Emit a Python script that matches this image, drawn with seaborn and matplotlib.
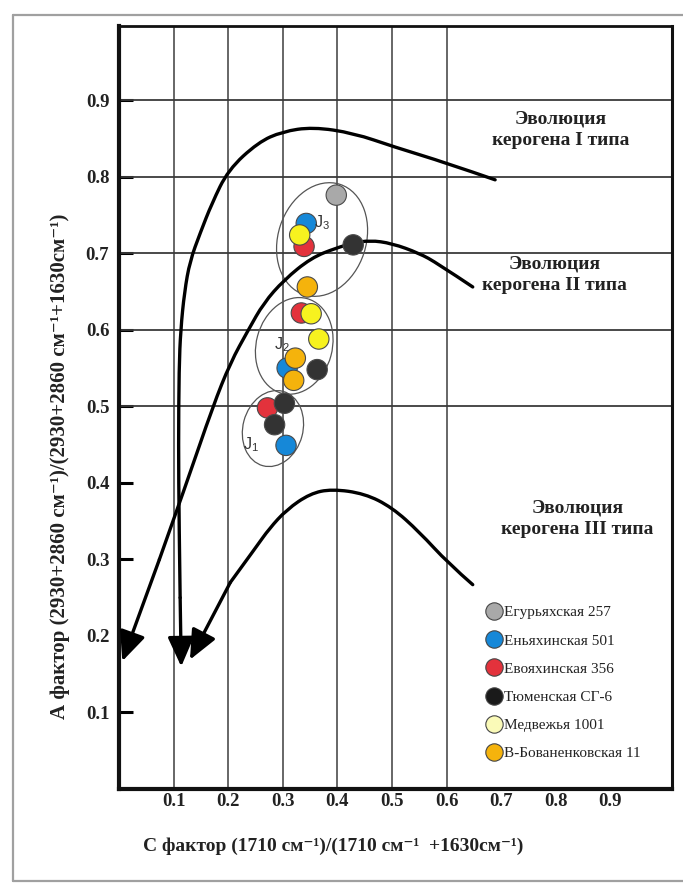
import matplotlib
matplotlib.use("Agg")
import matplotlib.pyplot as plt
from matplotlib.patches import Ellipse, PathPatch
from matplotlib.path import Path
from matplotlib.lines import Line2D
from matplotlib.transforms import ScaledTranslation
import seaborn as sns
import pandas as pd

# --- sample series: C factor (x) and A factor (y) ---
egur_x = [0.398]
egur_y = [0.776]
enyakh_x = [0.343, 0.308, 0.306]
enyakh_y = [0.739, 0.550, 0.449]
evoyakh_x = [0.339, 0.334, 0.272]
evoyakh_y = [0.709, 0.622, 0.498]
tyumen_x = [0.429, 0.363, 0.303, 0.285]
tyumen_y = [0.711, 0.548, 0.504, 0.476]
medv_x = [0.331, 0.352, 0.366]
medv_y = [0.724, 0.621, 0.588]
bovan_x = [0.345, 0.323, 0.320]
bovan_y = [0.656, 0.563, 0.534]

field_names = ["Егурьяхская 257", "Еньяхинская 501", "Евояхинская 356",
               "Тюменская СГ-6", "Медвежья 1001", "В-Бованенковская 11"]
field_colors = ["#a9a9a9", "#1688d8", "#e3323c", "#333333", "#f7f21f", "#f5b30c"]
legend_colors = ["#a9a9a9", "#1688d8", "#e3323c", "#1a1a1a", "#fafab8", "#f5b30c"]

# --- kerogen evolution paths (from start to arrow tip) ---
ker1_x = [0.689, 0.60, 0.504, 0.43, 0.355, 0.299, 0.255, 0.20, 0.17, 0.149,
          0.13, 0.12, 0.113, 0.110, 0.109, 0.110, 0.112, 0.114]
ker1_y = [0.796, 0.818, 0.839, 0.857, 0.865, 0.859, 0.845, 0.809, 0.765, 0.727,
          0.69, 0.65, 0.60, 0.55, 0.45, 0.35, 0.25, 0.16]
ker2_x = [0.648, 0.583, 0.55, 0.50, 0.459, 0.428, 0.398, 0.352, 0.302, 0.265,
          0.237, 0.204, 0.172, 0.124, 0.074, 0.006]
ker2_y = [0.656, 0.687, 0.700, 0.713, 0.717, 0.713, 0.707, 0.694, 0.665, 0.635,
          0.600, 0.557, 0.500, 0.400, 0.300, 0.167]
ker3_x = [0.648, 0.603, 0.55, 0.50, 0.45, 0.39, 0.35, 0.307, 0.275, 0.252, 0.204, 0.13]
ker3_y = [0.267, 0.295, 0.336, 0.368, 0.386, 0.392, 0.386, 0.365, 0.340, 0.317, 0.270, 0.169]

x_ticks = [0.1, 0.2, 0.3, 0.4, 0.5, 0.6, 0.7, 0.8, 0.9]
y_ticks = [0.1, 0.2, 0.3, 0.4, 0.5, 0.6, 0.7, 0.8, 0.9]
x_grid = [0.1, 0.2, 0.3, 0.4, 0.5, 0.6]
y_grid = [0.5, 0.6, 0.7, 0.8, 0.9]

kerogen_labels = ["Эволюция\nкерогена I типа", "Эволюция\nкерогена II типа",
                  "Эволюция\nкерогена III типа"]
zone_labels = ["J$_3$", "J$_2$", "J$_1$"]

sns.set_theme(style="white")
plt.rcParams["font.family"] = ["Liberation Serif", "DejaVu Serif"]
plt.rcParams["mathtext.default"] = "regular"


def smooth_path(xs, ys):
    """Quadratic Bezier path through the midpoints of the given polyline."""
    pts = list(zip(xs, ys))
    verts = [pts[0]]
    codes = [Path.MOVETO]
    for i in range(1, len(pts) - 1):
        verts.append(pts[i])
        if i < len(pts) - 2:
            nxt = ((pts[i][0] + pts[i + 1][0]) / 2, (pts[i][1] + pts[i + 1][1]) / 2)
        else:
            nxt = pts[i + 1]
        verts.append(nxt)
        codes += [Path.CURVE3, Path.CURVE3]
    return Path(verts, codes)


# draw order: later rows sit on top
series = [
    (field_names[0], egur_x, egur_y),
    (field_names[2], evoyakh_x, evoyakh_y),
    (field_names[1], enyakh_x, enyakh_y),
    (field_names[3], tyumen_x, tyumen_y),
    (field_names[4], medv_x, medv_y),
    (field_names[5], bovan_x, bovan_y),
]
rows = []
for name, xs, ys in series:
    for xv, yv in zip(xs, ys):
        rows.append({"field": name, "C": xv, "A": yv})
df = pd.DataFrame(rows)

fig = plt.figure(figsize=(6.83, 8.84), dpi=100)
W, H = 683, 884
ax = fig.add_axes([119 / W, 1 - 789 / H, (672 - 119) / W, (789 - 26) / H])
ax.set_xlim(0, 1.013)
ax.set_ylim(0, 0.997)

for gx in x_grid:
    ax.axvline(gx, color="#4d4d4d", lw=1.2, zorder=1)
for gy in y_grid:
    ax.axhline(gy, color="#3a3a3a", lw=1.3, zorder=1)

# evolution paths with arrow heads
for kx, ky in [(ker1_x, ker1_y), (ker2_x, ker2_y), (ker3_x, ker3_y)]:
    ax.add_patch(PathPatch(smooth_path(kx[:-1], ky[:-1]), fill=False,
                           edgecolor="black", lw=2.4, capstyle="round",
                           joinstyle="round", zorder=3))
    ax.annotate("", xy=(kx[-1], ky[-1]), xytext=(kx[-2], ky[-2]),
                arrowprops=dict(arrowstyle="-|>,head_length=0.9,head_width=0.4",
                                color="black", lw=2.4, mutation_scale=20,
                                shrinkA=0, shrinkB=0), zorder=3)

# zone ellipses, sized in display units
ell_specs = [((0.372, 0.718), 1.16, 0.88, 72),
             ((0.321, 0.579), 0.98, 0.76, 75),
             ((0.282, 0.471), 0.77, 0.60, 75)]
for (cx, cy), w, h, ang in ell_specs:
    tr = fig.dpi_scale_trans + ScaledTranslation(cx, cy, ax.transData)
    e = Ellipse((0, 0), w, h, angle=ang, transform=tr, fill=False,
                edgecolor="#555555", lw=0.9, zorder=2)
    ax.add_patch(e)

sns.scatterplot(data=df, x="C", y="A", hue="field", hue_order=field_names,
                palette=dict(zip(field_names, field_colors)), s=215,
                edgecolor="#4a4a4a", linewidth=0.8, legend=False, ax=ax, zorder=4)

for lab, (lx, ly) in zip(zone_labels, [(0.371, 0.740), (0.299, 0.581), (0.242, 0.450)]):
    ax.text(lx, ly, lab, family=["Liberation Sans", "DejaVu Sans"], fontsize=11.5,
            color="#333333", ha="center", va="center", zorder=5)

for lab, (tx, ty) in zip(kerogen_labels, [(0.809, 0.862), (0.798, 0.672), (0.840, 0.353)]):
    ax.text(tx, ty, lab, fontsize=14, fontweight="bold", color="#222222",
            ha="center", va="center", multialignment="center", linespacing=1.35,
            zorder=5)

ax.set_xticks(x_ticks)
ax.set_xticklabels([f"{v:.1f}" for v in x_ticks])
ax.set_yticks(y_ticks)
ax.set_yticklabels([f"{v:.1f}" for v in y_ticks])
for t in ax.get_xticklabels() + ax.get_yticklabels():
    t.set_fontweight("bold")
    t.set_fontsize(13.5)
    t.set_color("#222222")
ax.tick_params(axis="x", length=0, pad=3)
ax.tick_params(axis="y", direction="in", length=10, width=2.2, color="black", pad=7,
               left=True)
ax.set_xlabel("")
ax.set_ylabel("")

for side, lw in [("left", 3), ("bottom", 3), ("top", 2), ("right", 2.2)]:
    ax.spines[side].set_visible(True)
    ax.spines[side].set_color("#111111")
    ax.spines[side].set_linewidth(lw)

handles = [Line2D([0], [0], marker="o", linestyle="", markersize=12.5,
                  markerfacecolor=c, markeredgecolor="#444444", markeredgewidth=0.8)
           for c in legend_colors]
leg = ax.legend(handles, field_names, loc="upper left",
                bbox_to_anchor=(476 / W, 1 - 598 / H), bbox_transform=fig.transFigure,
                frameon=False, fontsize=11, handletextpad=0.05, labelspacing=0.95,
                handlelength=1.3, borderpad=0.0)
for t in leg.get_texts():
    t.set_color("#222222")

fig.text(333 / W, 1 - 846 / H,
         "С фактор (1710 см⁻¹)/(1710 см⁻¹  +1630см⁻¹)",
         fontsize=14, fontweight="bold", color="#222222", ha="center", va="center")
fig.text(60 / W, 1 - 466 / H,
         "А фактор (2930+2860 см⁻¹)/(2930+2860 см⁻¹+1630см⁻¹)",
         fontsize=15, fontweight="bold", color="#222222", ha="center", va="center",
         rotation=90)

# outer frame of the figure panel
frame_kw = dict(color="#a0a0a0", lw=1.6, transform=fig.transFigure)
fig.add_artist(Line2D([13 / W, 1.0], [1 - 15 / H, 1 - 15 / H], **frame_kw))
fig.add_artist(Line2D([13 / W, 13 / W], [1 - 15 / H, 1 - 881 / H], **frame_kw))
fig.add_artist(Line2D([13 / W, 1.0], [1 - 881 / H, 1 - 881 / H], **frame_kw))

fig.savefig("out.png", dpi=100, facecolor="white")
